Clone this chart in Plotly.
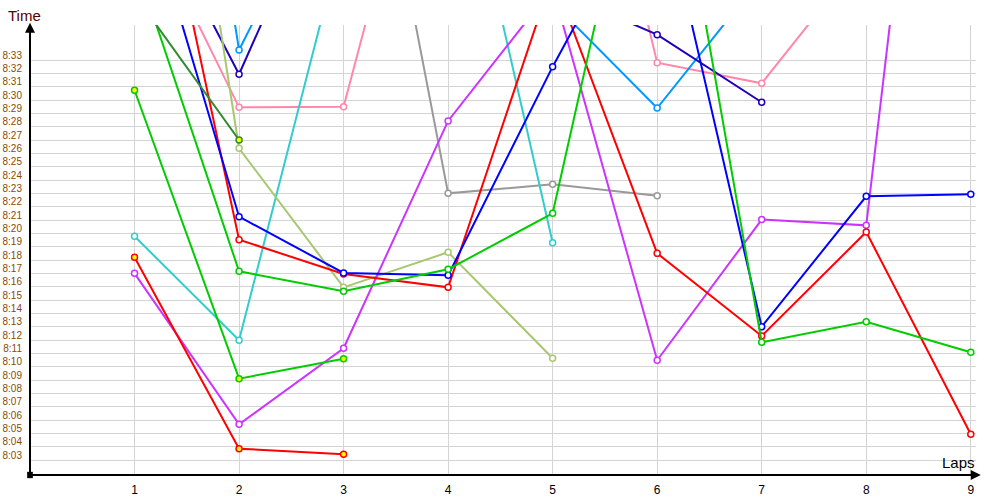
import plotly.graph_objects as go

# Laps on the x axis
laps = [1, 2, 3, 4, 5, 6, 7, 8, 9]

# Times as minutes after 8:00 (decimal). None = no value for that lap.
red_first = [18.2, 3.85, 3.43]
green_first = [30.73, 9.1, 10.6]
darkgreen_first = [37.9, 27.0]
green_times = [40.5, 17.15, 15.65, 17.3, 21.5, 56.4, 11.83, 13.37, 11.08]
red_times = [56.25, 19.52, 16.95, 15.95, 39.3, 18.5, 12.3, 20.1, 4.93]
blue_times = [47.7, 21.25, 17.03, 16.85, 32.5, 46.9, 13.0, 22.78, 22.93]
lightblue_times = [83.0, 33.75, 49.3, None, 37.3, 29.4, 39.2]
navy_times = [47.0, 31.93, 49.6, None, 38.3, 34.9, 29.83]
pink_times = [45.4, 29.45, 29.5, 59.1, 65.5, 32.8, 31.25, 41.1]
gray_times = [None, None, 63.7, 23.0, 23.68, 22.82]
olive_times = [76.7, 26.38, 15.95, 18.58, 10.63]
cyan_times = [19.78, 11.98, 42.5, 53.7, 19.3]
purple_times = [17.0, 5.68, 11.38, 28.43, 38.4, 10.48, 21.03, 20.6, 87.2]

# y grid positions (minutes after 8:00) and their labels
grid_minutes = list(range(3, 34))
tick_labels = ["8:%02d" % m for m in grid_minutes]
# each label sits just above its grid line
label_positions = [m + 0.375 for m in grid_minutes]

series = [
    (gray_times, "#999999", "white"),
    (pink_times, "#ff88aa", "white"),
    (lightblue_times, "#0099ff", "white"),
    (navy_times, "#2200bb", "white"),
    (cyan_times, "#33cccc", "white"),
    (olive_times, "#a8c870", "white"),
    (purple_times, "#cc33ff", "white"),
    (red_times, "#ff0000", "white"),
    (blue_times, "#0000ff", "white"),
    (green_times, "#00cc00", "white"),
    (darkgreen_first, "#2e8b2e", "#ffff00"),
    (green_first, "#00cc00", "#ffff00"),
    (red_first, "#ff0000", "#ffff00"),
]

fig = go.Figure()
for vals, col, fill in series:
    fig.add_trace(go.Scatter(
        x=laps[:len(vals)], y=vals, mode="lines+markers",
        line=dict(color=col, width=2),
        marker=dict(symbol="circle", size=6, color=fill,
                    line=dict(color=col, width=1.5)),
        showlegend=False, hoverinfo="skip",
    ))

fig.update_layout(
    width=1000, height=500, autosize=False,
    margin=dict(l=30, r=24, t=25, b=25, autoexpand=False),
    plot_bgcolor="white", paper_bgcolor="white",
    font=dict(family="Liberation Sans, Arial, sans-serif"),
    xaxis=dict(
        range=[0, 9.05], tickmode="array", tickvals=laps,
        ticktext=[str(v) for v in laps], automargin=False,
        showgrid=True, gridcolor="#d4d4d4", gridwidth=1,
        zeroline=False, showline=False,
        ticks="outside", ticklen=4, tickcolor="rgba(0,0,0,0)",
        tickfont=dict(size=12, color="#000000"),
    ),
    yaxis=dict(
        range=[1.875, 35.625], tickmode="array", tickvals=label_positions,
        ticktext=tick_labels, automargin=False,
        showgrid=False, zeroline=False, showline=False,
        ticks="outside", ticklen=5, tickcolor="rgba(0,0,0,0)",
        tickfont=dict(size=10, color="#8a4a00"),
        minor=dict(tickmode="array", tickvals=grid_minutes, showgrid=True,
                   gridcolor="#d4d4d4", gridwidth=1, ticks=""),
    ),
)

# axis lines with arrowheads
fig.add_annotation(xref="paper", yref="paper", x=0, y=1.005, ax=0, ay=452,
                   axref="pixel", ayref="pixel", showarrow=True, arrowhead=2,
                   arrowsize=1, arrowwidth=2, arrowcolor="black", text="")
fig.add_annotation(xref="paper", yref="paper", x=1.005, y=0, ax=-951, ay=0,
                   showarrow=True, arrowhead=2, arrowsize=1, arrowwidth=2,
                   arrowcolor="black", text="")
fig.add_shape(type="rect", xref="paper", yref="paper", x0=-0.003, x1=0.003,
              y0=-0.007, y1=0.007, fillcolor="black", line=dict(width=0))

# axis titles
fig.add_annotation(xref="paper", yref="paper", x=-0.0053, y=1.0222,
                   xanchor="center", yanchor="middle", text="Time",
                   showarrow=False, font=dict(size=15, color="#550000"))
fig.add_annotation(xref="paper", yref="paper", x=0.982, y=0.0267,
                   xanchor="center", yanchor="middle", text="Laps",
                   showarrow=False, font=dict(size=15, color="#000000"))

fig.write_html("out.html", config={"displayModeBar": False},
               post_script="document.body.style.margin='0';")
